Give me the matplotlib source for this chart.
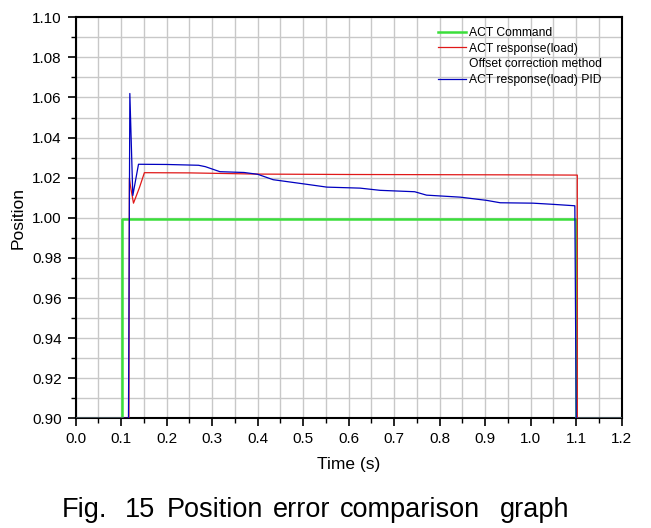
import matplotlib
matplotlib.use("Agg")
import matplotlib.pyplot as plt
from matplotlib.ticker import MultipleLocator, FormatStrFormatter
from matplotlib.lines import Line2D

plt.rcParams['font.family'] = ['Liberation Sans', 'DejaVu Sans']

# ---- data ----
cmd_t = [0.0, 0.101, 0.101, 1.0996, 1.0996, 1.2]
cmd_y = [0.90, 0.90, 0.9995, 0.9995, 0.90, 0.90]

red_t = [0.0, 0.117, 0.118, 0.121, 0.127, 0.140, 0.151, 0.25, 0.40, 0.60, 0.80, 1.00, 1.1024, 1.1024, 1.2]
red_y = [0.90, 0.90, 1.0196, 1.0150, 1.0073, 1.0150, 1.0225, 1.0224, 1.0218, 1.0216, 1.0215, 1.0214, 1.0213, 0.90, 0.90]

blue_t = [0.0, 0.116, 0.119, 0.1255, 0.138, 0.20, 0.27, 0.285, 0.317, 0.37, 0.40, 0.434, 0.508,
          0.552, 0.625, 0.669, 0.745, 0.771, 0.845, 0.903, 0.933, 1.005, 1.05, 1.097, 1.1, 1.2]
blue_y = [0.90, 0.90, 1.062, 1.0111, 1.0267, 1.0266, 1.0262, 1.0255, 1.0230, 1.0226, 1.0217, 1.0190, 1.0167,
          1.0153, 1.0148, 1.0137, 1.0130, 1.0113, 1.0103, 1.0087, 1.0075, 1.0073, 1.0067, 1.0060, 0.90, 0.90]

legend_labels = ["ACT Command", "ACT response(load)", "Offset correction method", "ACT response(load) PID"]
caption_words = ["Fig.", "15", "Position", "error", "comparison", "graph"]
caption_x = [62, 125, 167, 273, 340, 500]

fig = plt.figure(figsize=(6.51, 5.28), dpi=100)
ax = fig.add_axes([75.7/651, 1-418.3/528, (621.7-75.7)/651, (418.3-17.3)/528])

ax.set_xlim(0, 1.2)
ax.set_ylim(0.90, 1.10)
ax.xaxis.set_major_locator(MultipleLocator(0.1))
ax.xaxis.set_minor_locator(MultipleLocator(0.05))
ax.yaxis.set_major_locator(MultipleLocator(0.02))
ax.yaxis.set_minor_locator(MultipleLocator(0.01))
ax.grid(True, which='both', color='#c8c8c8', linewidth=1.0)
ax.set_axisbelow(True)

ax.plot(cmd_t, cmd_y, color='#3adf3a', lw=1.8, zorder=3)
ax.plot(red_t, red_y, color='#e01818', lw=0.9, zorder=4)
ax.plot(blue_t, blue_y, color='#0000c0', lw=0.9, zorder=5)

ax.xaxis.set_major_formatter(FormatStrFormatter('%.1f'))
ax.yaxis.set_major_formatter(FormatStrFormatter('%.2f'))
ax.tick_params(which='major', direction='out', length=6, width=1.2, labelsize=11, pad=4)
ax.tick_params(which='minor', direction='out', length=3.5, width=1.0)
for s in ax.spines.values():
    s.set_linewidth(1.5)

ax.set_xlabel("Time (s)", fontsize=12.5, labelpad=8)
ax.set_ylabel("Position", fontsize=12.5, labelpad=5)

handles = [Line2D([], [], color='#3adf3a', lw=1.8),
           Line2D([], [], color='#e01818', lw=0.9),
           Line2D([], [], color='none', lw=0),
           Line2D([], [], color='#0000c0', lw=0.9)]
ax.legend(handles, legend_labels, loc='upper right', bbox_to_anchor=(0.982, 1.0), frameon=False,
          fontsize=8.7, handlelength=2.3, handletextpad=0.25, labelspacing=0.3, borderaxespad=0.4)

for w, xp in zip(caption_words, caption_x):
    fig.text(xp/651, 1-517/528, w, fontsize=19.5, ha='left', va='baseline')

fig.savefig("out.png", dpi=100)
